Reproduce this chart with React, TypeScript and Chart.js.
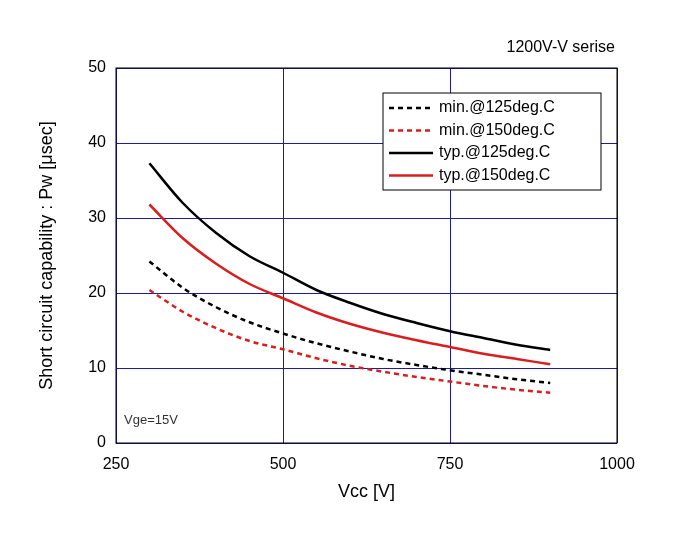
import React, { useEffect, useRef } from "react";
import { Chart, registerables } from "chart.js";
Chart.register(...registerables);

const vcc = [300, 350, 400, 450, 500, 550, 600, 650, 700, 750, 800, 850, 900];
const typ125 = [37.3, 32.0, 28.0, 24.9, 22.7, 20.4, 18.7, 17.2, 16.0, 14.9, 14.0, 13.1, 12.4];
const typ150 = [31.8, 27.3, 23.9, 21.2, 19.3, 17.4, 15.9, 14.7, 13.7, 12.8, 11.9, 11.2, 10.5];
const min125 = [24.2, 20.7, 18.1, 16.1, 14.6, 13.3, 12.2, 11.2, 10.4, 9.7, 9.1, 8.5, 8.0];
const min150 = [20.4, 17.5, 15.3, 13.6, 12.5, 11.3, 10.3, 9.5, 8.8, 8.2, 7.6, 7.1, 6.7];
const labels = ["min.@125deg.C", "min.@150deg.C", "typ.@125deg.C", "typ.@150deg.C"];
const RED = "#d81e1e";
const FONT = "'Liberation Sans', Arial, sans-serif";

export default function App() {
  const ref = useRef<HTMLCanvasElement>(null);
  useEffect(() => {
    document.body.style.margin = "0";
    const mk = (d: number[]) => d.map((y, i) => ({ x: vcc[i], y }));
    const series = [
      { data: min125, color: "#000", dash: [5, 4] },
      { data: min150, color: RED, dash: [5, 4] },
      { data: typ125, color: "#000", dash: [] },
      { data: typ150, color: RED, dash: [] },
    ];
    const overlay = {
      id: "overlay",
      afterDraw(c: any) {
        const ctx = c.ctx;
        const a = c.chartArea;
        ctx.save();
        ctx.strokeStyle = "#000";
        ctx.lineWidth = 1;
        ctx.strokeRect(a.left, a.top, a.right - a.left, a.bottom - a.top);
        const bx = 383, by = 93, bw = 218, bh = 97;
        ctx.fillStyle = "#fff";
        ctx.fillRect(bx, by, bw, bh);
        ctx.strokeRect(bx, by, bw, bh);
        ctx.font = `16px ${FONT}`;
        ctx.textBaseline = "middle";
        series.forEach((s, i) => {
          const y = by + 15 + i * 22.5;
          ctx.beginPath();
          ctx.strokeStyle = s.color;
          ctx.lineWidth = 2.5;
          ctx.setLineDash(s.dash);
          ctx.moveTo(bx + 6, y);
          ctx.lineTo(bx + 50, y);
          ctx.stroke();
          ctx.setLineDash([]);
          ctx.fillStyle = "#000";
          ctx.fillText(labels[i], bx + 56, y);
        });
        ctx.textAlign = "right";
        ctx.fillText("1200V-V serise", 615, 48);
        ctx.textAlign = "center";
        ctx.font = `18px ${FONT}`;
        ctx.fillText("Vcc [V]", (a.left + a.right) / 2, 492);
        ctx.save();
        ctx.translate(47, (a.top + a.bottom) / 2);
        ctx.rotate(-Math.PI / 2);
        ctx.fillText("Short circuit capability : Pw [μsec]", 0, 0);
        ctx.restore();
        ctx.textAlign = "left";
        ctx.font = `13px ${FONT}`;
        ctx.fillStyle = "#333";
        ctx.fillText("Vge=15V", 124, 420);
        ctx.restore();
      },
    };
    const chart = new Chart(ref.current!, {
      type: "line",
      data: {
        datasets: series.map((s, i) => ({
          label: labels[i],
          data: mk(s.data),
          borderColor: s.color,
          borderDash: s.dash,
          borderWidth: 2.5,
          pointRadius: 0,
          cubicInterpolationMode: "monotone",
          fill: false,
        })),
      },
      options: {
        animation: false,
        responsive: false,
        layout: { padding: { left: 0, right: 60, top: 68, bottom: 0 } },
        plugins: { legend: { display: false }, tooltip: { enabled: false } },
        scales: {
          x: {
            type: "linear",
            min: 250,
            max: 1000,
            ticks: { stepSize: 250, color: "#000", padding: 12, font: { family: FONT, size: 16 }, callback: (v: any) => String(v) },
            grid: { color: "#1c1c9c", lineWidth: 1, drawTicks: false },
            border: { display: false },
            afterFit: (s: any) => { s.height = 99; },
          },
          y: {
            min: 0,
            max: 50,
            ticks: { stepSize: 10, color: "#000", padding: 10, font: { family: FONT, size: 16 } },
            grid: { color: "#1c1c9c", lineWidth: 1, drawTicks: false },
            border: { display: false },
            afterFit: (s: any) => { s.width = 116; },
          },
        },
      },
      plugins: [overlay],
    });
    return () => chart.destroy();
  }, []);
  return <canvas ref={ref} width={677} height={542} style={{ display: "block" }} />;
}
